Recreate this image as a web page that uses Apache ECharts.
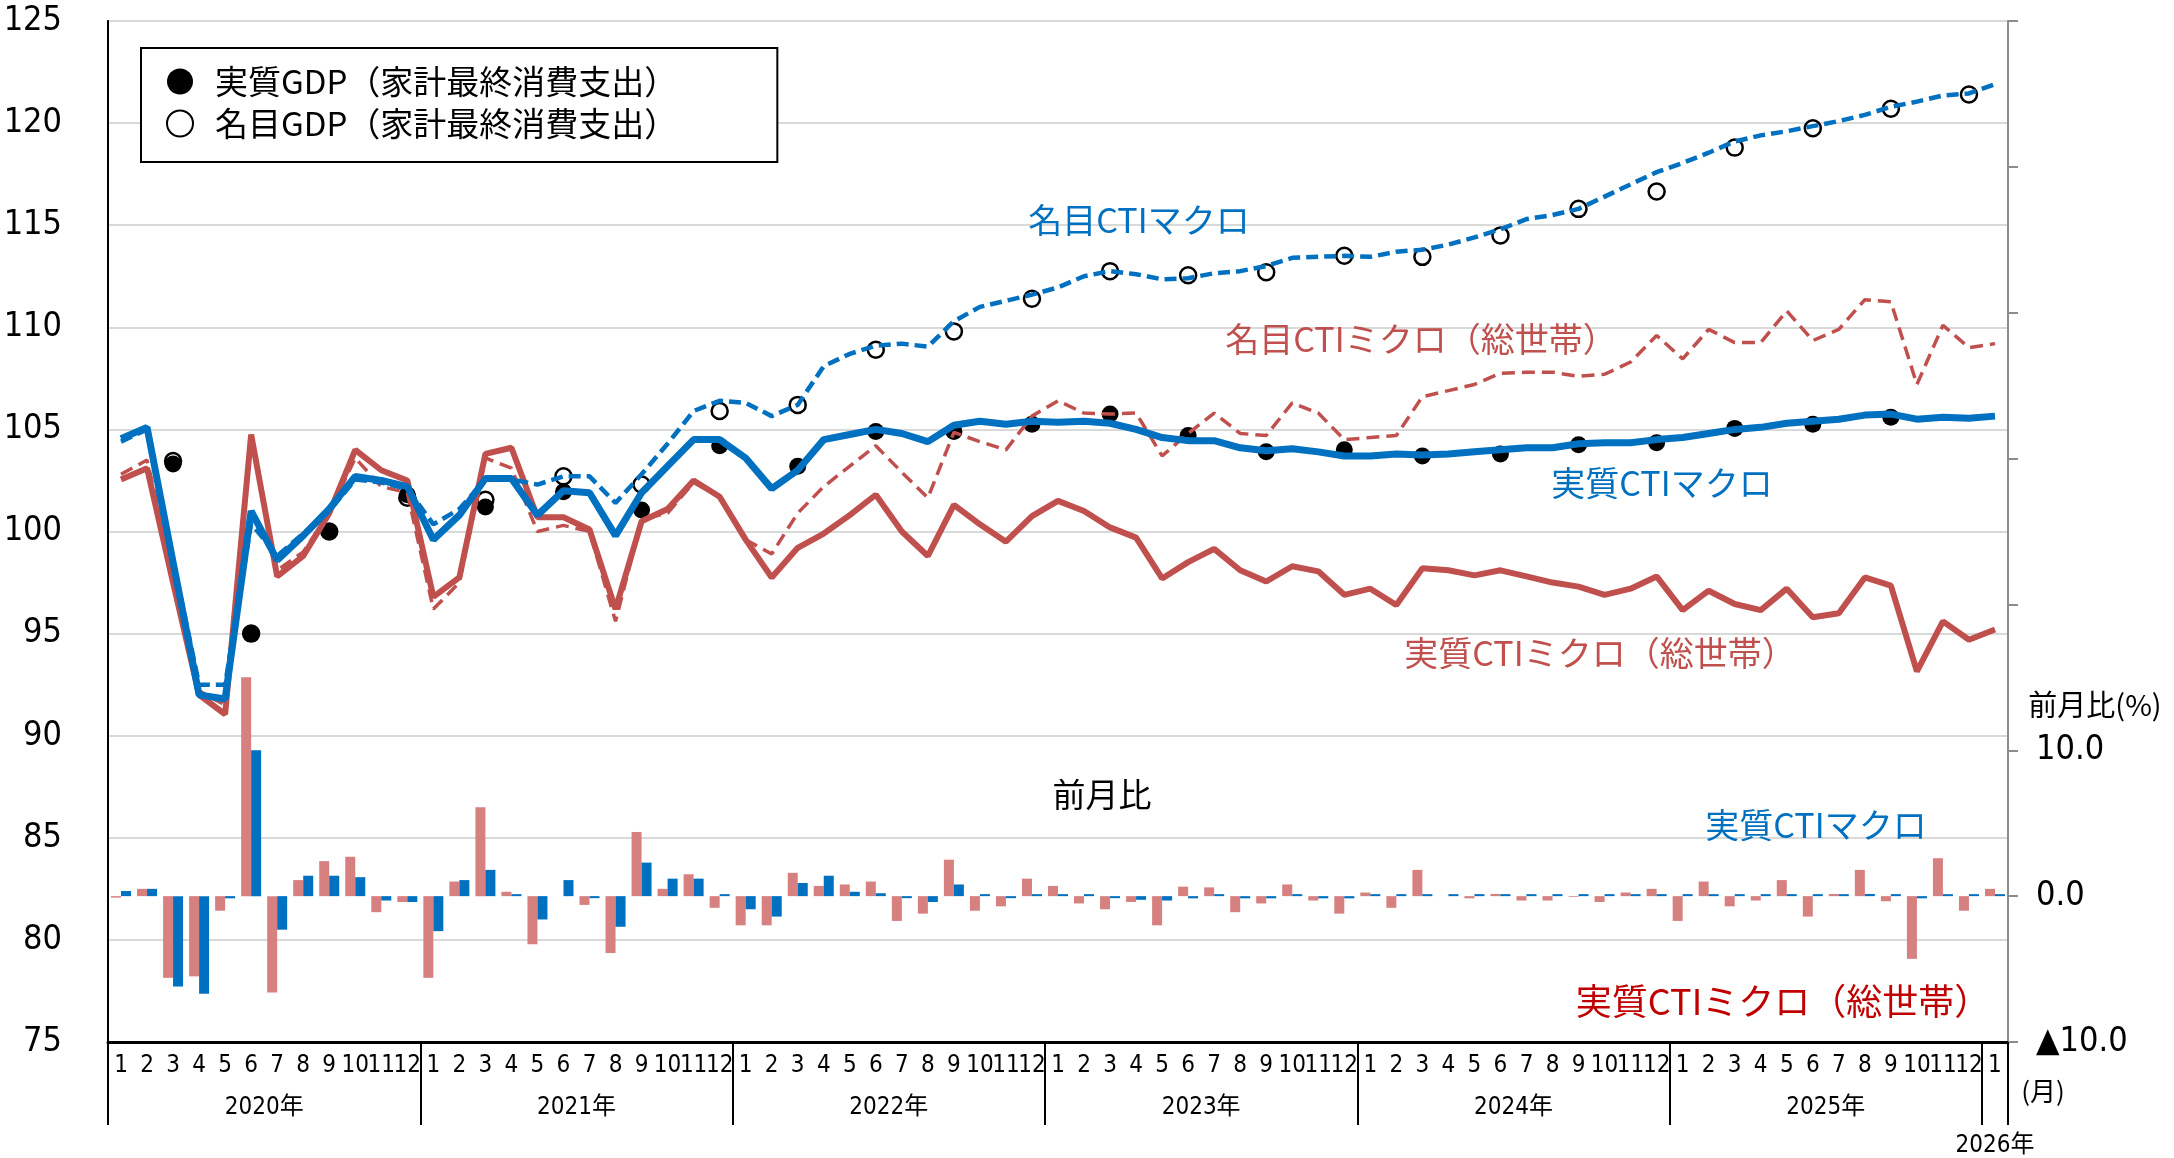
<!DOCTYPE html>
<html>
<head>
<meta charset="utf-8">
<script src="https://cdn.jsdelivr.net/npm/echarts@6/dist/echarts.min.js"></script>
<style>
html, body { margin: 0; padding: 0; background: #fff; }
#chart { width: 2174px; height: 1158px; }
</style>
</head>
<body>
<div id="chart"></div>
<script>
// 月ラベル (2020年1月〜2026年1月)
var months = [
  '1','2','3','4','5','6','7','8','9','10','11','12',
  '1','2','3','4','5','6','7','8','9','10','11','12',
  '1','2','3','4','5','6','7','8','9','10','11','12',
  '1','2','3','4','5','6','7','8','9','10','11','12',
  '1','2','3','4','5','6','7','8','9','10','11','12',
  '1','2','3','4','5','6','7','8','9','10','11','12',
  '1'
];
var yearLabels = ['2020年', '2021年', '2022年', '2023年', '2024年', '2025年', '2026年'];

// 実質CTIマクロ
var realMacro = [
  104.55, 105.1, 98.5, 92.0, 91.8, 101.0, 98.6, 99.8, 101.1, 102.7, 102.5, 102.2,
  99.6, 100.8, 102.6, 102.6, 100.8, 102.0, 101.9, 99.8, 101.9, 103.2, 104.5, 104.5,
  103.6, 102.1, 103.0, 104.5, 104.75, 105.0, 104.8, 104.4, 105.2, 105.4, 105.25, 105.4,
  105.35, 105.4, 105.3, 105.0, 104.6, 104.45, 104.45, 104.1, 103.95, 104.05, 103.9, 103.7,
  103.7, 103.8, 103.75, 103.8, 103.9, 104.0, 104.1, 104.1, 104.3, 104.35, 104.35, 104.5,
  104.6, 104.8, 105.0, 105.1, 105.3, 105.4, 105.5, 105.7, 105.75, 105.5, 105.6, 105.55,
  105.65
];
// 名目CTIマクロ
var nominalMacro = [
  104.4, 105.0, 98.6, 92.5, 92.5, 100.4, 98.8, 99.9, 101.0, 102.55, 102.4, 102.1,
  100.35, 101.1, 102.55, 102.55, 102.3, 102.7, 102.7, 101.4, 102.8, 104.3, 105.9, 106.4,
  106.3, 105.65, 106.2, 108.1, 108.7, 109.1, 109.2, 109.05, 110.3, 111.0, 111.3, 111.6,
  111.95, 112.5, 112.75, 112.6, 112.35, 112.4, 112.65, 112.75, 113.0, 113.4, 113.45, 113.5,
  113.45, 113.7, 113.8, 114.05, 114.4, 114.8, 115.3, 115.5, 115.8, 116.4, 117.0, 117.6,
  118.05, 118.55, 119.1, 119.4, 119.6, 119.85, 120.1, 120.4, 120.8, 121.05, 121.35, 121.45,
  121.9
];
// 実質CTIミクロ（総世帯）
var realMicro = [
  102.55, 103.1, 97.5, 92.0, 91.05, 104.75, 97.8, 98.8, 100.9, 104.0, 103.0, 102.5,
  96.8, 97.75, 103.8, 104.1, 100.7, 100.7, 100.1, 96.2, 100.5, 101.1, 102.5, 101.7,
  99.6, 97.75, 99.2, 99.9, 100.8, 101.8, 100.0, 98.8, 101.3, 100.35, 99.5, 100.75,
  101.5, 101.0, 100.2, 99.7, 97.7, 98.5, 99.15, 98.1, 97.55, 98.3, 98.05, 96.9,
  97.2, 96.4, 98.2, 98.1, 97.85, 98.1, 97.8, 97.5, 97.3, 96.9, 97.2, 97.8,
  96.15, 97.1, 96.45, 96.15, 97.2, 95.8, 96.0, 97.75, 97.35, 93.15, 95.6, 94.7,
  95.2
];
// 名目CTIミクロ（総世帯）
var nominalMicro = [
  102.8, 103.5, 98.0, 92.2, 91.5, 104.5, 98.1, 99.0, 100.9, 103.6, 102.2, 101.9,
  96.2, 97.5, 103.6, 103.1, 100.0, 100.3, 100.0, 95.6, 100.6, 100.9, 102.4, 101.7,
  99.6, 98.9, 100.9, 102.2, 103.2, 104.2, 102.9, 101.65, 104.85, 104.4, 104.0, 105.65,
  106.4, 105.8, 105.75, 105.8, 103.7, 104.8, 105.8, 104.8, 104.7, 106.3, 105.8, 104.5,
  104.6, 104.7, 106.6, 106.9, 107.2, 107.75, 107.8, 107.8, 107.6, 107.7, 108.3, 109.6,
  108.45, 109.9, 109.25, 109.25, 110.8, 109.35, 109.9, 111.35, 111.25, 107.2, 110.1, 109.0,
  109.2
];

// GDP（家計最終消費支出）四半期: 各四半期末月の位置
var gdpMonthIndex = [2, 5, 8, 11, 14, 17, 20, 23, 26, 29, 32, 35, 38, 41, 44, 47, 50, 53, 56, 59, 62, 65, 68, 71];
var gdpReal = [
  103.3, 95.0, 100.0, 101.8, 101.2, 101.95, 101.05, 104.2, 103.2, 104.9, 104.9, 105.25,
  105.75, 104.7, 103.9, 104.0, 103.7, 103.8, 104.25, 104.35, 105.05, 105.25, 105.6
];
var gdpNominal = [
  103.45, 95.0, 100.0, 101.65, 101.55, 102.7, 102.3, 105.9, 106.2, 108.9, 109.8, 111.4,
  112.75, 112.55, 112.7, 113.5, 113.45, 114.5, 115.8, 116.65, 118.8, 119.75, 120.7, 121.4
];

// 前月比 (%)
var realMicroMoM = [
  -0.1, 0.5, -5.6, -5.5, -1.0, 15.0, -6.6, 1.1, 2.4, 2.7, -1.1, -0.4,
  -5.6, 1.0, 6.1, 0.3, -3.3, 0, -0.6, -3.9, 4.4, 0.5, 1.5, -0.8,
  -2.0, -2.0, 1.6, 0.7, 0.8, 1.0, -1.7, -1.2, 2.5, -1.0, -0.7, 1.2,
  0.7, -0.5, -0.9, -0.4, -2.0, 0.65, 0.6, -1.1, -0.5, 0.8, -0.3, -1.2,
  0.25, -0.8, 1.8, 0, -0.15, 0.15, -0.3, -0.3, -0.05, -0.4, 0.25, 0.5,
  -1.7, 1.0, -0.7, -0.3, 1.1, -1.4, 0.15, 1.8, -0.35, -4.3, 2.6, -1.0,
  0.5
];
var realMacroMoM = [
  0.35, 0.5, -6.2, -6.7, -0.15, 10.0, -2.3, 1.4, 1.4, 1.3, -0.3, -0.4,
  -2.4, 1.1, 1.8, 0.05, -1.6, 1.1, -0.1, -2.1, 2.3, 1.2, 1.2, 0.05,
  -0.9, -1.4, 0.9, 1.4, 0.3, 0.2, -0.1, -0.4, 0.8, 0.05, -0.05, 0.05,
  0.05, 0.05, -0.05, -0.25, -0.3, -0.15, 0.05, -0.15, -0.15, 0.05, -0.15, -0.15,
  0.05, 0.05, 0.05, 0.05, 0.05, 0.05, 0.1, 0.05, 0.1, 0.05, 0.05, 0.05,
  0.05, 0.1, 0.1, 0.05, 0.1, 0.05, 0.05, 0.15, 0.05, -0.15, 0.05, 0.05,
  0.05
];

var BLUE = '#0070C0';
var RED = '#C0504D';
var PINK = '#D6807F';
var NARROW = "'Liberation Sans Narrow', 'DejaVu Sans Condensed', 'Noto Sans CJK JP', sans-serif";
var JP = "'Noto Sans CJK JP', sans-serif";

function pairs(idx, vals) {
  return vals.map(function (v, k) { return [idx[k], v]; });
}

var chart = echarts.init(document.getElementById('chart'));

var option = {
  animation: false,
  backgroundColor: '#fff',
  grid: {
    left: 108, right: 166, top: 21, bottom: 115,
    show: true, borderColor: '#333', borderWidth: 2
  },
  legend: {
    left: 141, top: 48,
    orient: 'vertical',
    icon: 'circle',
    itemWidth: 26, itemHeight: 26,
    itemGap: 9,
    padding: [17, 100, 22, 25],
    borderColor: '#000', borderWidth: 2,
    backgroundColor: '#fff',
    textStyle: { fontSize: 33, color: '#000', fontFamily: JP, padding: [0, 0, 0, 17] },
    data: ['実質GDP（家計最終消費支出）', '名目GDP（家計最終消費支出）']
  },
  xAxis: [
    {
      type: 'category',
      data: months,
      boundaryGap: true,
      axisLine: { show: true, onZero: false, lineStyle: { color: '#000', width: 3 } },
      axisTick: {
        show: true,
        length: 83,
        interval: function (idx) { return idx % 12 === 0; },
        lineStyle: { color: '#000', width: 2 }
      },
      axisLabel: {
        interval: 0, margin: 12, fontSize: 24, color: '#000', fontFamily: NARROW
      },
      splitLine: { show: false }
    },
    {
      type: 'value',
      position: 'bottom',
      min: 0, max: 73, interval: 0.5,
      axisLine: { show: false, onZero: false },
      axisTick: { show: false },
      splitLine: { show: false },
      axisLabel: {
        margin: 54, fontSize: 24, color: '#000', fontFamily: NARROW,
        showMinLabel: false, showMaxLabel: false,
        formatter: function (v) {
          if (v === 72.5) return '{low|' + yearLabels[6] + '}';
          var k = (v - 6) / 12;
          if (k >= 0 && k < 6 && k === Math.floor(k)) return yearLabels[k];
          return '';
        },
        rich: {
          low: { fontSize: 24, color: '#000', fontFamily: NARROW, padding: [38, 0, 0, 0] }
        }
      }
    }
  ],
  yAxis: [
    {
      type: 'value',
      min: 75, max: 125, interval: 5,
      axisLine: { show: true, lineStyle: { color: '#000', width: 2 } },
      axisTick: { show: false },
      axisLabel: { margin: 46, fontSize: 34, color: '#000', fontFamily: NARROW },
      splitLine: { show: true, lineStyle: { color: '#D9D9D9', width: 2 } }
    },
    {
      type: 'value',
      position: 'right',
      min: -10, max: 60, interval: 10,
      axisLine: { show: true, lineStyle: { color: '#8C8C8C', width: 2 } },
      axisTick: { show: true, inside: false, length: 10, lineStyle: { color: '#8C8C8C', width: 2 } },
      axisLabel: {
        margin: 28, fontSize: 34, color: '#000', fontFamily: NARROW,
        formatter: function (v) {
          if (v === -10) return '▲10.0';
          if (v === 0) return '0.0';
          if (v === 10) return '10.0';
          return '';
        }
      },
      splitLine: { show: false }
    }
  ],
  series: [
    {
      name: '実質CTIミクロ（総世帯）前月比',
      type: 'bar', xAxisIndex: 0, yAxisIndex: 1,
      data: realMicroMoM,
      barWidth: 10, barGap: '0%',
      itemStyle: { color: PINK }
    },
    {
      name: '実質CTIマクロ前月比',
      type: 'bar', xAxisIndex: 0, yAxisIndex: 1,
      data: realMacroMoM,
      barWidth: 10, barGap: '0%', barMinHeight: 2,
      itemStyle: { color: BLUE }
    },
    {
      name: '実質CTIミクロ（総世帯）',
      type: 'line', data: realMicro, symbol: 'none',
      lineStyle: { color: RED, width: 6 }
    },
    {
      name: '名目CTIミクロ（総世帯）',
      type: 'line', data: nominalMicro, symbol: 'none',
      lineStyle: { color: RED, width: 3.5, type: [13, 7] }
    },
    {
      name: '実質CTIマクロ',
      type: 'line', data: realMacro, symbol: 'none',
      lineStyle: { color: BLUE, width: 7 }
    },
    {
      name: '名目CTIマクロ',
      type: 'line', data: nominalMacro, symbol: 'none',
      lineStyle: { color: BLUE, width: 4.5, type: [12, 6] }
    },
    {
      name: '名目GDP（家計最終消費支出）',
      type: 'scatter', data: pairs(gdpMonthIndex, gdpNominal),
      symbol: 'circle', symbolSize: 16,
      itemStyle: { color: '#fff', borderColor: '#000', borderWidth: 2.5, opacity: 1 }
    },
    {
      name: '実質GDP（家計最終消費支出）',
      type: 'scatter', data: pairs(gdpMonthIndex, gdpReal),
      symbol: 'circle', symbolSize: 17,
      itemStyle: { color: '#000', opacity: 1 }
    }
  ],
  graphic: [
    { type: 'text', x: 1139, y: 220, z: 50, style: { text: '名目CTIマクロ', fill: BLUE, fontSize: 34, fontFamily: JP, align: 'center', verticalAlign: 'middle' } },
    { type: 'text', x: 1421, y: 339, z: 50, style: { text: '名目CTIミクロ（総世帯）', fill: RED, fontSize: 34, fontFamily: JP, align: 'center', verticalAlign: 'middle' } },
    { type: 'text', x: 1662, y: 483, z: 50, style: { text: '実質CTIマクロ', fill: BLUE, fontSize: 34, fontFamily: JP, align: 'center', verticalAlign: 'middle' } },
    { type: 'text', x: 1600, y: 653, z: 50, style: { text: '実質CTIミクロ（総世帯）', fill: RED, fontSize: 34, fontFamily: JP, align: 'center', verticalAlign: 'middle' } },
    { type: 'text', x: 1102, y: 794, z: 50, style: { text: '前月比', fill: '#000', fontSize: 33, fontFamily: JP, align: 'center', verticalAlign: 'middle' } },
    { type: 'text', x: 1816, y: 825, z: 50, style: { text: '実質CTIマクロ', fill: BLUE, fontSize: 34, fontFamily: JP, align: 'center', verticalAlign: 'middle' } },
    { type: 'text', x: 1783, y: 1001, z: 50, style: { text: '実質CTIミクロ（総世帯）', fill: '#C00000', fontSize: 36, fontFamily: JP, align: 'center', verticalAlign: 'middle' } },
    { type: 'text', x: 2095, y: 705, z: 50, style: { text: '前月比(%)', fill: '#000', fontSize: 29, fontFamily: JP, align: 'center', verticalAlign: 'middle' } },
    { type: 'text', x: 2043, y: 1091, z: 50, style: { text: '(月)', fill: '#000', fontSize: 26, fontFamily: JP, align: 'center', verticalAlign: 'middle' } }
  ]
};

chart.setOption(option);
</script>
</body>
</html>
